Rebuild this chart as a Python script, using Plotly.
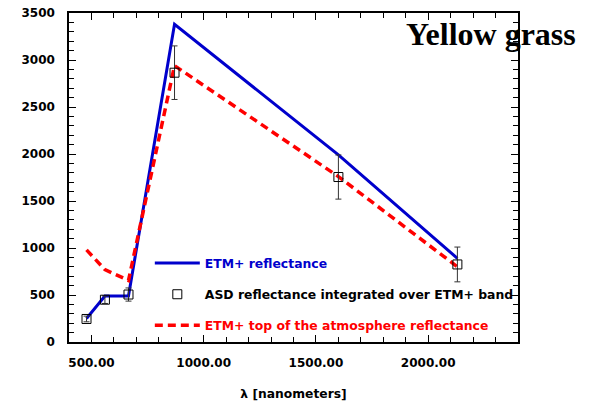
import plotly.graph_objects as go

# ETM+ band centres (nm) and reflectance values for yellow grass
band_nm = [478, 560, 665, 870, 1600, 2130]
etm_reflectance = [250, 490, 490, 3380, 1990, 890]
asd_reflectance = [245, 450, 505, 2865, 1755, 825]
asd_error = [30, 40, 70, 285, 235, 185]
toa_reflectance = [980, 770, 655, 2940, 1760, 800]

x_ticks = [500, 1000, 1500, 2000]
y_ticks = [0, 500, 1000, 1500, 2000, 2500, 3000, 3500]

sans = "DejaVu Sans"

fig = go.Figure()

fig.add_trace(go.Scatter(
    x=band_nm, y=etm_reflectance, mode="lines",
    name="<b><span style='color:#0000cc'>ETM+ reflectance</span></b>",
    line=dict(color="#0000cc", width=3),
    legendgroup="a", legendrank=1,
))
fig.add_trace(go.Scatter(
    x=band_nm, y=toa_reflectance, mode="lines",
    name="<b><span style='color:#ff0000'>ETM+ top of the atmosphere reflectance</span></b>",
    line=dict(color="#ff0000", width=3.5, dash="8px,5px"),
    legendgroup="c", legendrank=3,
))
fig.add_trace(go.Scatter(
    x=band_nm, y=asd_reflectance, mode="markers",
    name="<b>ASD reflectance integrated over ETM+ band</b>",
    marker=dict(symbol="square-open", size=9, color="#000000",
                line=dict(width=1, color="#000000")),
    error_y=dict(type="data", array=asd_error, visible=True,
                 color="#333333", thickness=1, width=3),
    legendgroup="b", legendrank=2,
))

axis_common = dict(
    showline=True, linecolor="#000000", linewidth=1.5, mirror="ticks",
    ticks="inside", ticklen=7, tickwidth=1.2, tickcolor="#000000",
    showgrid=False, zeroline=False, automargin=False,
    tickfont=dict(family=sans, size=12, color="#000000", weight="bold"),
)

fig.update_xaxes(
    range=[400, 2400], tickvals=x_ticks, tickformat=".2f",
    ticklabelstandoff=9,
    minor=dict(dtick=100, tick0=400, ticks="inside", ticklen=5,
               tickcolor="#000000", tickwidth=1),
    title=dict(text="<b>λ [nanometers]</b>", standoff=20,
               font=dict(family=sans, size=12.3, color="#000000")),
    **axis_common,
)
fig.update_yaxes(
    range=[0, 3500], tickvals=y_ticks,
    ticklabelstandoff=10,
    minor=dict(dtick=100, tick0=0, ticks="inside", ticklen=5,
               tickcolor="#000000", tickwidth=1),
    **axis_common,
)

fig.add_annotation(
    text="<b>Yellow grass</b>", xref="paper", yref="paper",
    x=0.94, y=0.936, xanchor="center", yanchor="middle", showarrow=False,
    font=dict(family="Liberation Serif", size=32, color="#000000"),
)

fig.update_layout(
    width=595, height=402,
    margin=dict(l=69, r=77, t=13, b=60),
    paper_bgcolor="#ffffff", plot_bgcolor="#ffffff",
    showlegend=True,
    legend=dict(
        x=0.18, y=0.284, xanchor="left", yanchor="top",
        bgcolor="rgba(0,0,0,0)", borderwidth=0,
        traceorder="grouped", tracegroupgap=12, itemwidth=45,
        font=dict(family=sans, size=12.4, color="#000000"),
    ),
)

fig.write_html("out.html")
